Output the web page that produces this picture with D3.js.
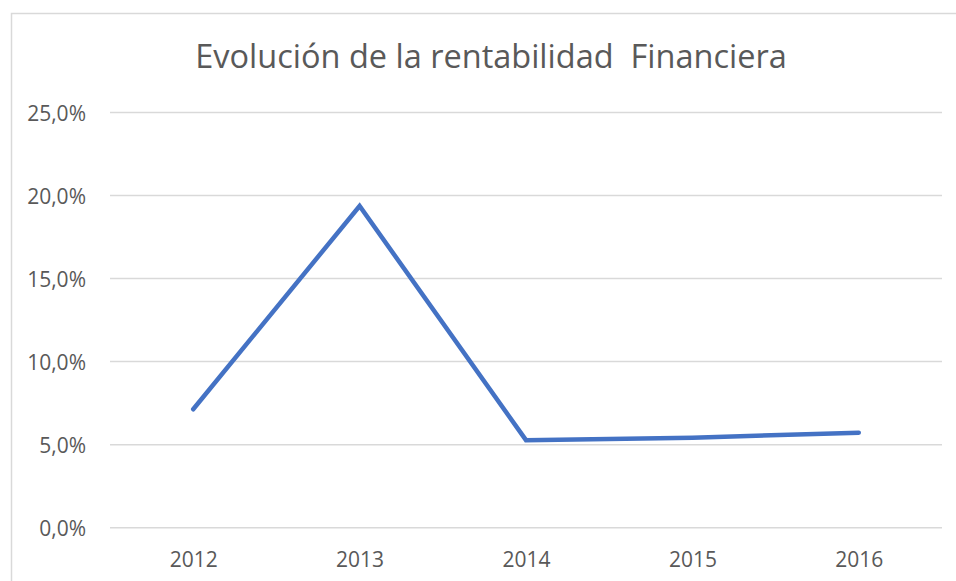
<!DOCTYPE html>
<html>
<head>
<meta charset="utf-8">
<script src="https://cdn.jsdelivr.net/npm/d3@7"></script>
<style>
	body {margin: 0; background: #fff;}
	svg text {font-family: "Open Sans", "Noto Sans", sans-serif; fill: #595959;}
</style>
</head>
<body>
<svg id="chart" width="956" height="581"></svg>
<script>
/*** Data ***/
var years = ["2012", "2013", "2014", "2015", "2016"]
var rentabilidad = [0.0713, 0.1937, 0.0527, 0.0542, 0.0572]
var yTicks = [0, 0.05, 0.10, 0.15, 0.20, 0.25]
var title = "Evolución de la rentabilidad\u00a0 Financiera"

/*** Draw ***/
var m = d3.select("#chart")
var pl = 110, pr = 942, pt = 112.5, pb = 527.7

// chart border
m.append("rect")
 .attr("x", 11.5).attr("y", 13.5)
 .attr("width", 960).attr("height", 600)
 .attr("fill", "none")
 .attr("stroke", "#d9d9d9")
 .attr("stroke-width", 1.5)

var x = d3.scalePoint().domain(years).range([pl, pr]).padding(0.5)
var y = d3.scaleLinear().domain([0, 0.25]).range([pb, pt])
var fmt = (v) => d3.format(".1%")(v).replace(".", ",")

// grid
m.append("g")
 .selectAll("line")
 .data(yTicks)
 .enter()
 .append("line")
 .attr("x1", pl).attr("x2", pr)
 .attr("y1", (d) => y(d)).attr("y2", (d) => y(d))
 .attr("stroke", "#d9d9d9")
 .attr("stroke-width", 1.5)

// y axis labels
var ya = m.append("g")
		  .attr("transform", "translate(" + 86 + ",0)")
		  .call(d3.axisLeft(y).tickValues(yTicks).tickFormat(fmt).tickSize(0).tickPadding(0))
ya.select(".domain").remove()
ya.selectAll("text").attr("font-size", 21).attr("font-family", null).attr("dy", "0.36em").attr("fill", "#595959")

// x axis labels
var xa = m.append("g")
		  .attr("transform", "translate(0," + 552 + ")")
		  .call(d3.axisBottom(x).tickSize(0).tickPadding(0))
xa.select(".domain").remove()
xa.selectAll("text").attr("font-size", 21).attr("font-family", null).attr("dy", "0.72em").attr("fill", "#595959")

// line
var line = d3.line().x((d, i) => x(years[i])).y((d) => y(d))
m.append("path")
 .datum(rentabilidad)
 .attr("d", line)
 .attr("fill", "none")
 .attr("stroke", "#4472c4")
 .attr("stroke-width", 4.5)
 .attr("stroke-linecap", "round")
 .attr("stroke-linejoin", "miter")

// title
m.append("text")
 .attr("x", 491).attr("y", 68)
 .attr("text-anchor", "middle")
 .attr("font-size", 32.5)
 .text(title)
</script>
</body>
</html>
